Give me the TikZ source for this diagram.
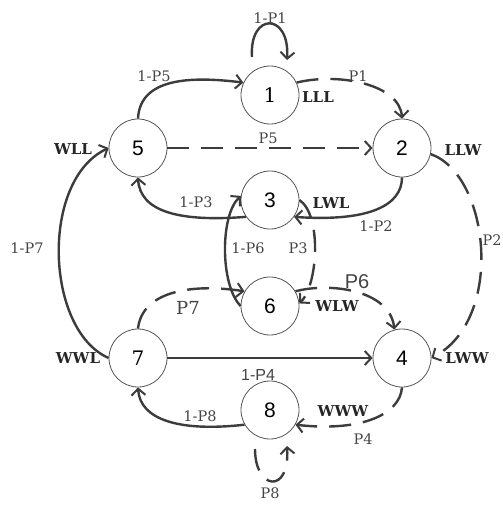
\documentclass[tikz,border=0pt]{standalone}
\usepackage{fontspec}
\setmainfont{DejaVu Serif}
\newfontfamily\numsans{Liberation Sans}
\newfontfamily\labserif{DejaVu Serif}
\usetikzlibrary{arrows.meta}
\definecolor{edgegray}{HTML}{3C3C3C}
\definecolor{labgray}{HTML}{444444}
\definecolor{ringgray}{HTML}{555555}
\begin{document}
\begin{tikzpicture}[x=1pt,y=-1pt,
  state/.style={circle,draw=ringgray,line width=0.8pt,fill=white,
    minimum size=58pt,inner sep=0pt,text=black},
  sansnum/.style={font=\numsans\fontsize{21}{21}\selectfont},
  serifnum/.style={font=\labserif\fontsize{20}{20}\selectfont},
  edge/.style={draw=edgegray,line width=2.4pt,
    -{Straight Barb[length=6.5pt,width=14pt,line width=2pt]}},
  dashedge/.style={edge,dash pattern=on 22pt off 12pt},
  prob/.style={text=labgray,font=\labserif\fontsize{14.5}{14.5}\selectfont,inner sep=1pt},
  probsans/.style={text=labgray,font=\numsans\fontsize{16}{16}\selectfont,inner sep=1pt},
  probbig/.style={text=labgray,font=\numsans\fontsize{20}{20}\selectfont,inner sep=1pt},
  probbigserif/.style={text=labgray,font=\labserif\fontsize{18}{18}\selectfont,inner sep=1pt},
  tag/.style={text=black!85,font=\bfseries\fontsize{15}{15}\selectfont,inner sep=1pt},
]
\useasboundingbox (0,0) rectangle (503,506);
\fill[white] (0,0) rectangle (503,506);

% states
\node[state,serifnum] (n1) at (270,95)  {1};
\node[state,sansnum]  (n2) at (402,148) {2};
\node[state,sansnum]  (n5) at (138,148) {5};
\node[state,sansnum]  (n3) at (270,200) {3};
\node[state,sansnum]  (n6) at (270,306) {6};
\node[state,serifnum] (n7) at (138,358) {7};
\node[state,sansnum]  (n4) at (402,358) {4};
\node[state,sansnum]  (n8) at (270,410) {8};

% loop ends
\coordinate (l1a) at (252,57);
\coordinate (l1b) at (287,60);
\coordinate (l8a) at (255,449);
\coordinate (l8b) at (287,446);

% solid transitions
\draw[edge] (l1a) .. controls (249,12) and (290,12) .. (l1b);
\draw[edge] (n5.north) .. controls (140,78) and (190,76) .. (n1.155);
\draw[edge] (n2.south) .. controls (402,205) and (370,222) .. (n3.-35);
\draw[edge] (n3.215) .. controls (180,222) and (140,212) .. (n5.south);
\draw[edge] (n6.west) .. controls (220,285) and (220,215) .. (n3.172);
\draw[edge] (n7.west) .. controls (45,330) and (40,180) .. (n5.west);
\draw[edge] (n7) -- (n4);
\draw[edge] (n8.210) .. controls (180,432) and (140,420) .. (n7.south);

% dashed transitions
\draw[dashedge] (n1.25) .. controls (340,72) and (400,85) .. (n2.north);
\draw[dashedge] (n5) -- (n2);
\draw[dashedge] (n2.-12) .. controls (490,175) and (505,320) .. (n4.east);
\draw[dashedge] (n3.east) .. controls (322,215) and (318,285) .. (n6.5);
\draw[dashedge] (n6.30) .. controls (330,282) and (390,290) .. (n4.105);
\draw[dashedge] (n7.north) .. controls (142,292) and (190,283) .. (n6.150);
\draw[dashedge] (n4.south) .. controls (400,415) and (360,432) .. (n8.-30);
\draw[dashedge] (l8a) .. controls (255,490) and (290,495) .. (l8b);

% transition probabilities
\node[prob] (t1p1) at (270,18)  {1-P1};
\node[prob] (t1p5) at (154,76)  {1-P5};
\node[prob] (tp1)  at (358,76)  {P1};
\node[prob] (tp5)  at (268,138) {P5};
\node[prob] (t1p3) at (196,202) {1-P3};
\node[prob] (t1p2) at (376,226) {1-P2};
\node[prob] (tp2)  at (492,240) {P2};
\node[prob] (t1p7) at (27,248)  {1-P7};
\node[prob] (t1p6) at (248,248) {1-P6};
\node[prob] (tp3)  at (298,248) {P3};
\node[probbig] (tp6) at (357,282) {P6};
\node[probbigserif] (tp7) at (188,308) {P7};
\node[probsans] (t1p4) at (258,375) {1-P4};
\node[prob] (t1p8) at (200,416) {1-P8};
\node[prob] (tp4)  at (363,439) {P4};
\node[prob] (tp8)  at (270,493) {P8};

% state names
\node[tag] (sLLL) at (318,97)  {LLL};
\node[tag] (sWLL) at (73,149)  {WLL};
\node[tag] (sLLW) at (463,150) {LLW};
\node[tag] (sLWL) at (331,203) {LWL};
\node[tag] (sWLW) at (337,306) {WLW};
\node[tag] (sWWL) at (78,358)  {WWL};
\node[tag] (sLWW) at (467,358) {LWW};
\node[tag] (sWWW) at (343,411) {WWW};
\end{tikzpicture}
\end{document}
